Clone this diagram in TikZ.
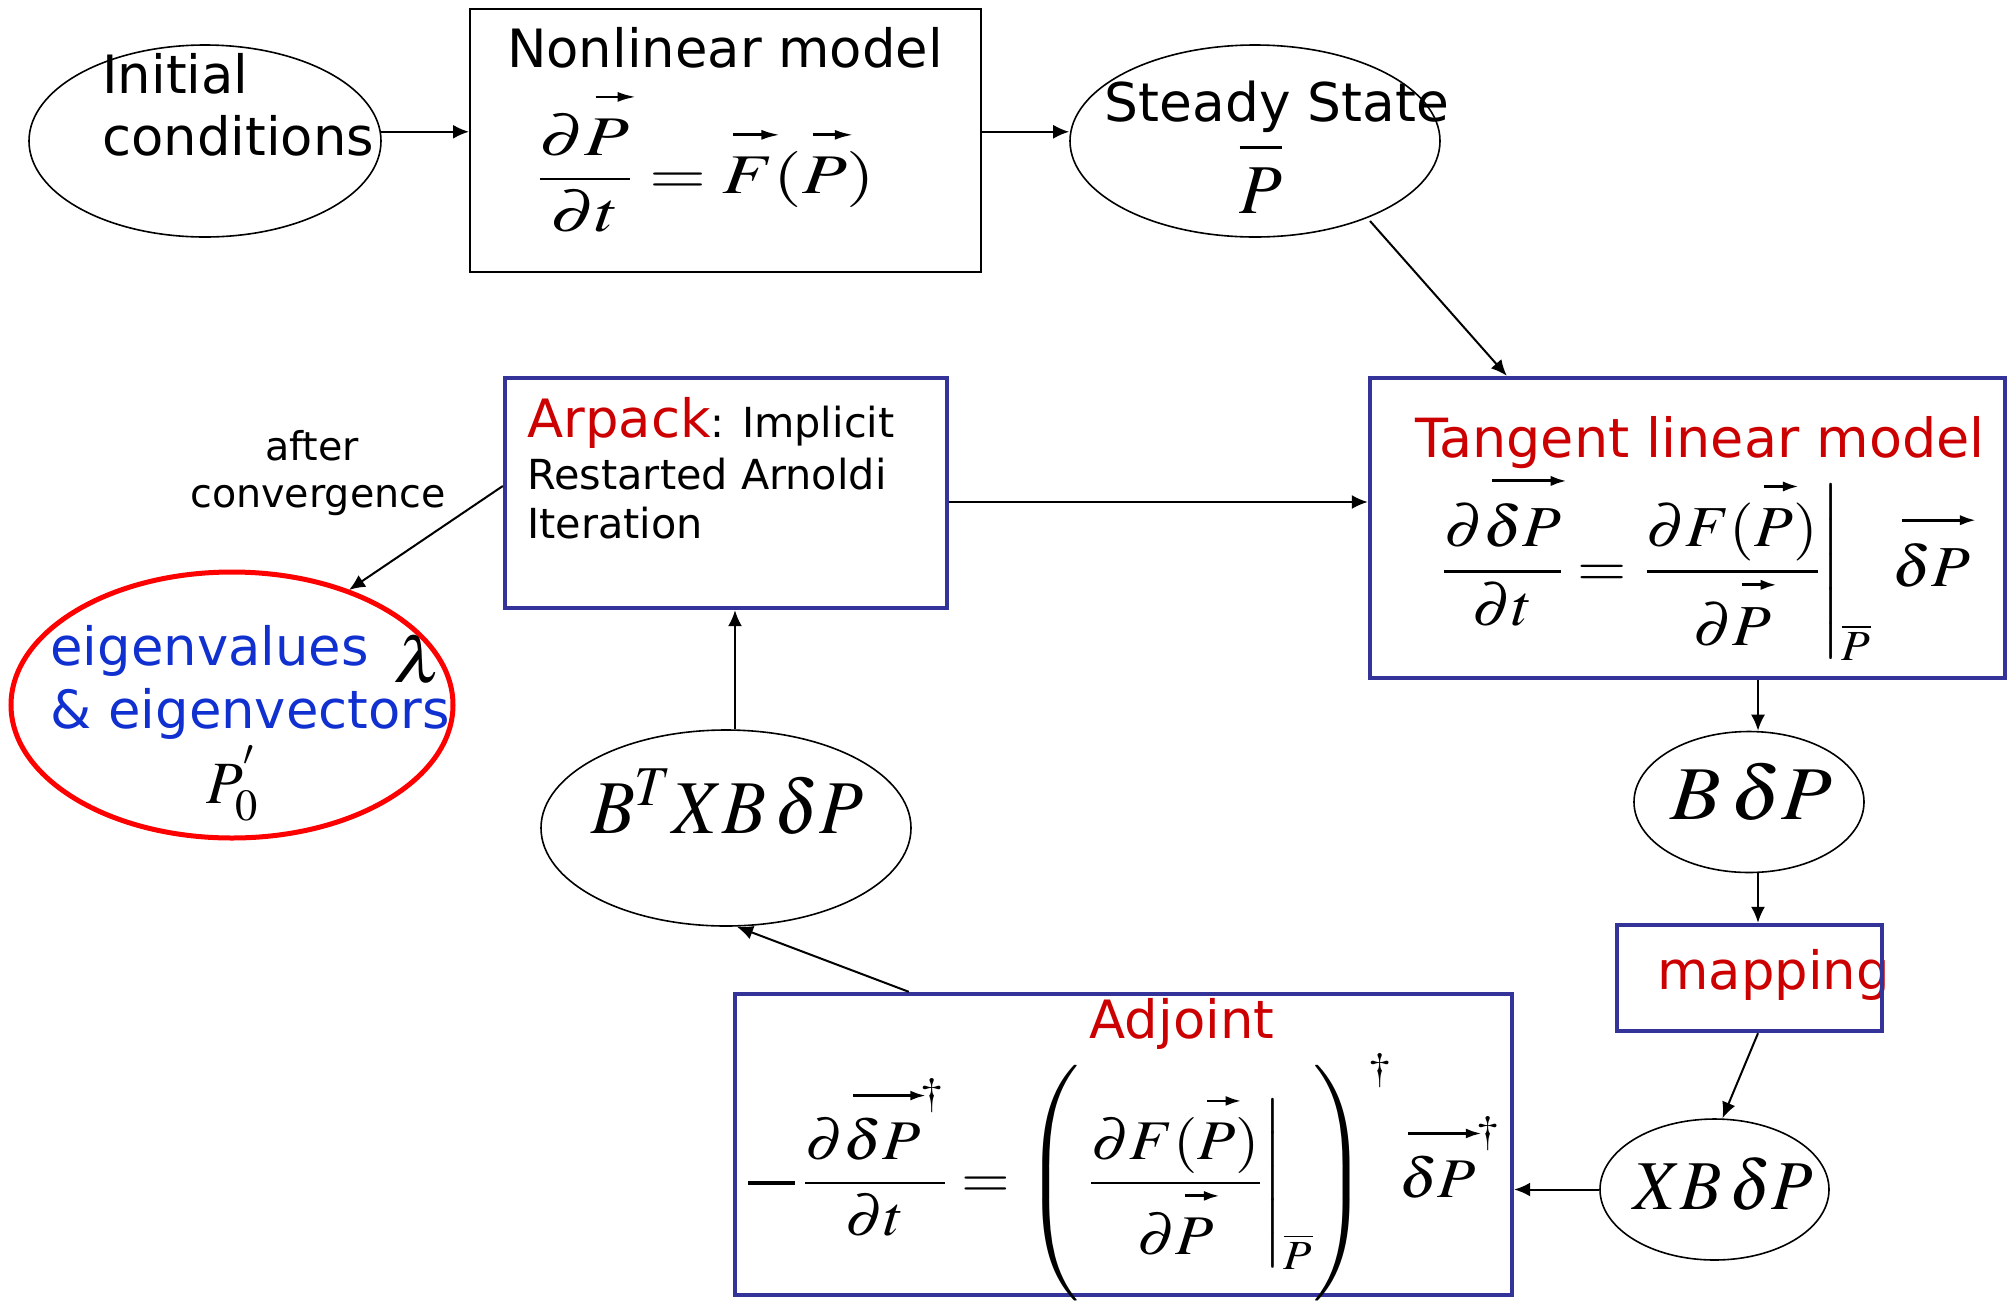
\documentclass[tikz,border=0pt]{standalone}
\usepackage{mathptmx}
\usepackage[no-math]{fontspec}
\setmainfont{DejaVu Sans}
\usepackage{graphicx}
\usetikzlibrary{shapes.geometric,arrows.meta,calc}
\definecolor{boxblue}{RGB}{51,51,153}
\definecolor{txtred}{RGB}{204,0,0}
\definecolor{txtblue}{RGB}{16,48,208}
\definecolor{ellred}{RGB}{255,0,0}
\newsavebox\avbox
\newlength\avlen
\newlength\avlw
\newlength\avhl
\newlength\avhw
\newcommand{\av}[1]{\mathord{\sbox\avbox{$\displaystyle #1$}%
  \setlength\avlen{\wd\avbox}\addtolength\avlen{-0.06em}%
  \setlength\avlw{0.05em}\setlength\avhl{0.25em}\setlength\avhw{0.18em}%
  \edef\avopts{line width=\the\avlw,-{Latex[length=\the\avhl,width=\the\avhw]}}%
  \vbox{\offinterlineskip\hbox to\wd\avbox{\hskip0.12em\expandafter\avdraw\expandafter{\avopts}\hss}%
  \kern0.3em\copy\avbox}}}
\newcommand{\avdraw}[1]{\tikz[baseline=0pt]\draw[#1](0pt,0pt)--(\the\avlen,0pt);}
\newcommand{\bigminus}{\mathord{\rule[0.215em]{0.75em}{0.07em}}\,}
\begin{document}
\begin{tikzpicture}[x=0.5pt,y=-0.5pt,
  arr/.style={-{Latex[length=8pt,width=7pt]},line width=1pt},
  ell/.style={ellipse,draw,line width=0.8pt,inner sep=0pt},
  blackbox/.style={rectangle,draw,line width=1pt,inner sep=0pt},
  bluebox/.style={rectangle,draw=boxblue,line width=2.2pt,inner sep=0pt},
  txt/.style={inner sep=0pt},
  bigtxt/.style={font=\fontsize{26.4}{32}\selectfont},
  smalltxt/.style={font=\fontsize{20.7}{25}\selectfont}
]
\useasboundingbox (0,0) rectangle (2014,1313);
\fill[white] (0,0) rectangle (2014,1313);

% shapes
\node[ell,minimum width=176pt,minimum height=96pt] (init) at (205,141) {};
\node[blackbox,minimum width=255.5pt,minimum height=131.5pt] (nl) at (725.5,140.5) {};
\node[ell,minimum width=185pt,minimum height=96pt] (ss) at (1255,141) {};
\node[bluebox,minimum width=317.5pt,minimum height=150pt] (tlm) at (1687.5,528) {};
\node[bluebox,minimum width=221pt,minimum height=115pt] (arp) at (726,493) {};
\node[ell,draw=ellred,line width=2.5pt,minimum width=221pt,minimum height=133pt] (eig) at (232,705) {};
\node[ell,minimum width=185pt,minimum height=98pt] (btx) at (726,828) {};
\node[ell,minimum width=115pt,minimum height=70.5pt] (bdp) at (1749,802) {};
\node[txt,bigtxt,text=txtred,anchor=base west] (tmap) at (1657,989) {mapping};
\node[bluebox,minimum width=132.5pt,minimum height=53pt] (map) at (1749.5,978) {};
\node[ell,minimum width=114.5pt,minimum height=70.5pt] (xbdp) at (1714.5,1189.5) {};
\node[bluebox,minimum width=388.5pt,minimum height=150.5pt] (adj) at (1123.5,1144.5) {};

% texts
\node[txt,bigtxt,anchor=base west] (tinit1) at (102,93) {Initial};
\node[txt,bigtxt,anchor=base west] (tinit2) at (102,155) {conditions};
\node[txt,bigtxt,anchor=base] (tnl) at (725,67) {Nonlinear model};
\node[txt,anchor=base west] (enl) at (536,193) {\fontsize{28}{34}\selectfont\resizebox{169.5pt}{\height}{$\displaystyle\frac{\partial\av{P}}{\partial t}=\av{F}(\av{P})$}};
\node[txt,font=\fontsize{26.7}{32}\selectfont,anchor=base] (tss) at (1277,121) {Steady State};
\node[txt,anchor=base] (pss) at (1261,213) {\fontsize{35}{40}\selectfont$\overline{\rule{0pt}{0.8em}P}$};
\node[txt,font=\fontsize{27}{32}\selectfont,text=txtred,anchor=base] (ttlm) at (1700,457) {Tangent linear model};
\node[txt,anchor=base west] (etlm) at (1441,586) {\fontsize{29}{34}\selectfont\resizebox{264.5pt}{\height}{$\displaystyle\frac{\partial\av{\delta P}}{\partial t}=\left.\frac{\partial F(\av{P})}{\partial\av{P}}\right|_{\overline{P}}\;\av{\delta P}$}};
\node[txt,anchor=base west] (tarp1) at (527,437) {{\fontsize{26.4}{32}\selectfont\textcolor{txtred}{Arpack}}{\fontsize{20.7}{25}\selectfont: Implicit}};
\node[txt,smalltxt,anchor=base west] (tarp2) at (527,489) {Restarted Arnoldi};
\node[txt,smalltxt,anchor=base west] (tarp3) at (527,538) {Iteration};
\node[txt,font=\fontsize{19.8}{24}\selectfont,anchor=base] (tac1) at (312,460) {after};
\node[txt,font=\fontsize{19.8}{24}\selectfont,anchor=base] (tac2) at (318,507) {convergence};
\node[txt,bigtxt,text=txtblue,anchor=base west] (te1) at (50,665) {eigenvalues};
\node[txt,bigtxt,text=txtblue,anchor=base west] (te2) at (50,728) {\& eigenvectors};
\node[txt,anchor=base] (tlam) at (418,682) {\fontsize{32}{36}\selectfont\scalebox{1.15}[1]{$\lambda$}};
\node[txt,anchor=base west] (tp0) at (206,803) {\fontsize{30}{34}\selectfont$P_{0}^{'}$};
\node[txt,anchor=base] (ebtx) at (727,833) {\fontsize{38}{44}\selectfont\resizebox{136pt}{\height}{$B^{T}XB\,\delta P$}};
\node[txt,anchor=base] (ebdp) at (1751,819) {\fontsize{38}{44}\selectfont\resizebox{81pt}{\height}{$B\,\delta P$}};
\node[txt,anchor=base] (exbdp) at (1723,1209) {\fontsize{35}{40}\selectfont\resizebox{90pt}{\height}{$XB\,\delta P$}};
\node[txt,bigtxt,text=txtred,anchor=base] (tadj) at (1182,1038) {Adjoint};
\node[txt,anchor=base west] (eadj) at (748,1197) {\fontsize{28}{34}\selectfont\resizebox{376pt}{\height}{$\displaystyle \bigminus\frac{\partial\av{\delta P}^{\dagger}}{\partial t}=\left(\rule[-52pt]{0pt}{118pt}\left.\frac{\partial F(\av{P})}{\partial\av{P}}\right|_{\overline{P}}\right)^{\dagger}\av{\delta P}^{\dagger}$}};

% connectors
\coordinate (colx) at (1758,0);
\coordinate (arpo) at ($(arp.east)+(0,9)$);
\coordinate (btxo) at ($(btx.north)+(9,0)$);
\draw[arr] (init.3) -- (init.3 -| nl.west);
\draw[arr] (init.3 -| nl.east) -- (init.3 -| ss.west);
\draw[arr] ($(ss.center)+(115,80)$) -- ($(tlm.north west)+(139,0)$);
\draw[arr] (arpo) -- (arpo -| tlm.west);
\draw[arr] ($(arp.west)+(0,-7)$) -- ($(eig.center)+(117,-115)$);
\draw[arr] (btxo) -- (btxo |- arp.south);
\draw[arr] (tlm.south -| colx) -- (bdp.north -| colx);
\draw[arr] (bdp.south -| colx) -- (map.north -| colx);
\draw[arr] (map.south -| colx) -- ($(xbdp.north)+(8,0)$);
\draw[arr] (xbdp.west) -- (xbdp.west -| adj.east);
\draw[arr] ($(adj.north west)+(176,0)$) -- ($(btx.south)+(11,0)$);
\end{tikzpicture}
\end{document}
